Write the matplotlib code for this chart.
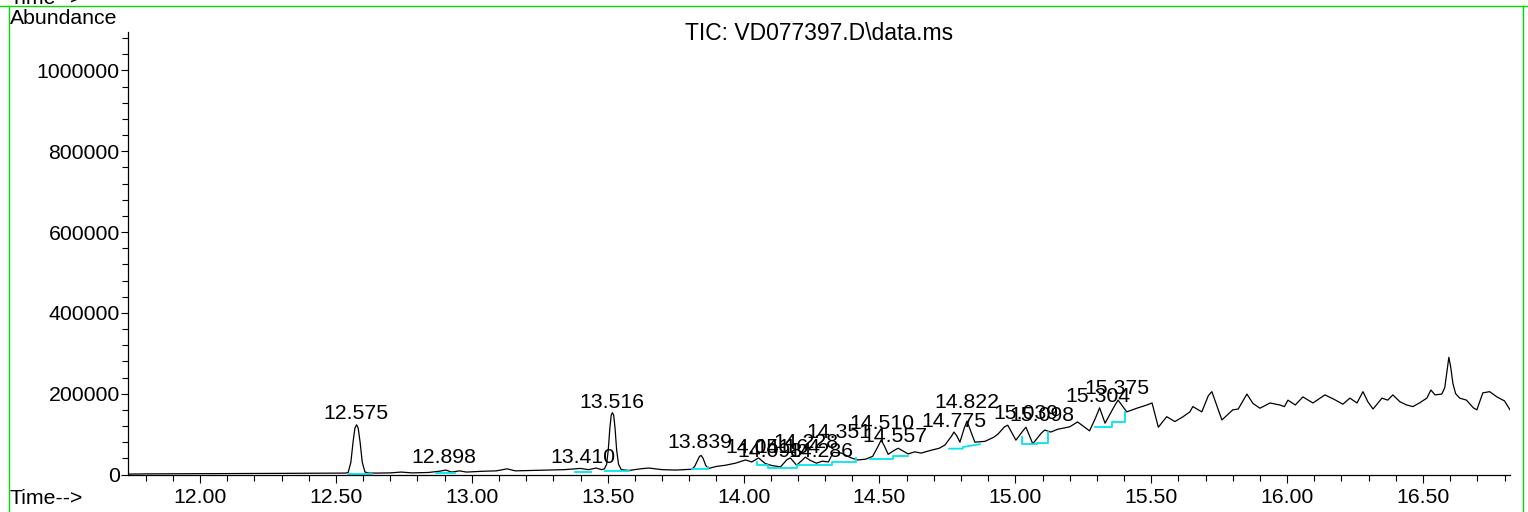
import numpy as np
import matplotlib
matplotlib.use('Agg')
import matplotlib.pyplot as plt
from matplotlib.lines import Line2D
from matplotlib.ticker import MultipleLocator, FormatStrFormatter

plt.rcParams['font.family'] = ['Liberation Sans', 'DejaVu Sans']

# chromatogram trace (time in min, abundance)
time = [11.735, 11.80, 11.90, 12.00, 12.10, 12.20, 12.30, 12.40, 12.48, 12.535,
        12.545, 12.555, 12.563, 12.570, 12.576, 12.582, 12.589, 12.597, 12.607, 12.620,
        12.65, 12.70, 12.74, 12.78, 12.84, 12.88, 12.905, 12.925, 12.955, 12.98,
        13.04, 13.09, 13.13, 13.16, 13.22, 13.28, 13.34, 13.40, 13.43, 13.457,
        13.478, 13.488, 13.496, 13.502, 13.508, 13.513, 13.517, 13.522, 13.527, 13.533,
        13.540, 13.550, 13.578, 13.62, 13.651, 13.70, 13.75, 13.81, 13.820, 13.830,
        13.838, 13.844, 13.851, 13.861, 13.872, 13.90, 13.934, 13.97, 14.007, 14.03,
        14.055, 14.08, 14.105, 14.136, 14.160, 14.172, 14.195, 14.215, 14.227, 14.245,
        14.268, 14.29, 14.312, 14.33, 14.36, 14.396, 14.42, 14.45, 14.475, 14.495,
        14.506, 14.517, 14.532, 14.555, 14.569, 14.605, 14.63, 14.653, 14.69, 14.72,
        14.741, 14.765, 14.774, 14.785, 14.796, 14.812, 14.822, 14.833, 14.851, 14.888,
        14.92, 14.936, 14.960, 14.972, 15.002, 15.030, 15.039, 15.064, 15.095, 15.108,
        15.13, 15.156, 15.20, 15.229, 15.273, 15.295, 15.310, 15.33, 15.365, 15.378,
        15.41, 15.447, 15.484, 15.503, 15.526, 15.557, 15.587, 15.617, 15.642, 15.653,
        15.686, 15.710, 15.723, 15.76, 15.80, 15.82, 15.852, 15.874, 15.90, 15.937,
        15.973, 15.99, 16.003, 16.03, 16.058, 16.095, 16.139, 16.17, 16.205, 16.231,
        16.257, 16.279, 16.297, 16.316, 16.349, 16.37, 16.389, 16.415, 16.44, 16.463,
        16.489, 16.514, 16.529, 16.544, 16.569, 16.580, 16.588, 16.595, 16.602, 16.610,
        16.620, 16.635, 16.66, 16.685, 16.698, 16.72, 16.745, 16.772, 16.80, 16.82]
abundance = [1000, 1500, 1800, 2000, 2300, 2500, 2800, 3000, 3300, 3500,
             5000, 30000, 80000, 115000, 123000, 115000, 80000, 30000, 6000, 3500,
             3500, 4000, 6000, 4000, 5000, 8000, 11000, 6000, 9000, 6000,
             8000, 9000, 14000, 9000, 10000, 11000, 12000, 15000, 12000, 16000,
             12000, 14000, 25000, 60000, 115000, 147000, 153000, 147000, 115000, 60000,
             25000, 12000, 10000, 14000, 16000, 12000, 11000, 13000, 20000, 34000,
             45000, 47000, 40000, 22000, 15000, 20000, 23000, 28000, 36000, 31000,
             41000, 27000, 22000, 19000, 37000, 41000, 23000, 35000, 43000, 35000,
             28000, 33000, 31000, 55000, 53000, 41000, 36000, 38000, 45000, 70000,
             85000, 72000, 50000, 60000, 65000, 51000, 56000, 53000, 60000, 65000,
             73000, 95000, 105000, 95000, 80000, 115000, 132000, 112000, 80000, 82000,
             92000, 100000, 118000, 122000, 85000, 110000, 117000, 76000, 102000, 110000,
             105000, 112000, 118000, 130000, 108000, 140000, 165000, 127000, 170000, 184000,
             155000, 164000, 172000, 177000, 117000, 143000, 131000, 143000, 155000, 168000,
             155000, 195000, 205000, 135000, 160000, 162000, 199000, 176000, 164000, 177000,
             172000, 168000, 184000, 172000, 192000, 177000, 197000, 187000, 174000, 189000,
             177000, 205000, 180000, 162000, 189000, 184000, 197000, 180000, 172000, 168000,
             178000, 189000, 209000, 197000, 199000, 215000, 255000, 290000, 265000, 225000,
             200000, 189000, 184000, 165000, 160000, 202000, 205000, 192000, 182000, 160000]

# integrated peaks: label text and label height
peak_labels = ['12.575', '12.898', '13.410', '13.516', '13.839', '14.051', '14.098',
               '14.164', '14.228', '14.286', '14.351', '14.510', '14.557', '14.775',
               '14.822', '15.039', '15.098', '15.304', '15.375']
label_height = [152000, 41000, 43000, 179000, 78000, 68000, 58000,
                68000, 78000, 58000, 105000, 127000, 95000, 132000,
                177000, 152000, 145000, 194000, 214000]

# integration baselines (cyan)
baseline_t = [
    [12.545, 12.633],
    [12.87, 12.94],
    [13.38, 13.44],
    [13.49, 13.58],
    [13.81, 13.87, 13.87],
    [14.049, 14.049, 14.09, 14.09, 14.196, 14.196, 14.325, 14.325, 14.414, 14.414],
    [14.465, 14.55, 14.55, 14.605],
    [14.756, 14.807, 14.807, 14.87],
    [15.023, 15.023, 15.078, 15.078, 15.121, 15.121],
    [15.293, 15.354, 15.354, 15.403, 15.403],
]
baseline_a = [
    [1500, 1500],
    [2500, 2500],
    [6000, 6000],
    [9500, 9500],
    [13000, 13000, 19000],
    [31000, 23500, 23500, 15000, 15000, 23500, 23500, 31000, 31000, 40000],
    [38000, 38000, 47000, 47000],
    [64000, 64000, 68000, 75000],
    [94000, 75000, 75000, 79000, 79000, 106000],
    [118000, 118000, 131000, 131000, 155000],
]

W, H = 1528, 512
fig = plt.figure(figsize=(W / 100, H / 100), dpi=100)
ax = fig.add_axes([128 / W, 1 - 474.5 / H, (1510 - 128) / W, (474.5 - 32) / H])

ax.plot(time, abundance, color='black', lw=0.9)
for bt, ba in zip(baseline_t, baseline_a):
    ax.plot(bt, ba, color='#00e5ee', lw=1.3)

fs = 15.3
for lab, h in zip(peak_labels, label_height):
    ax.text(float(lab), h, lab, ha='center', va='center', fontsize=fs)

ax.set_xlim(11.735, 16.82)
ax.set_ylim(0, 1095000)
ax.xaxis.set_major_locator(MultipleLocator(0.5))
ax.xaxis.set_minor_locator(MultipleLocator(0.1))
ax.xaxis.set_major_formatter(FormatStrFormatter('%.2f'))
ax.yaxis.set_major_locator(MultipleLocator(200000))
ax.yaxis.set_minor_locator(MultipleLocator(40000))
ax.yaxis.set_major_formatter(FormatStrFormatter('%d'))
ax.tick_params(axis='x', which='major', length=6, width=0.8, labelsize=fs, pad=4)
ax.tick_params(axis='x', which='minor', length=4, width=0.8)
ax.tick_params(axis='y', which='major', length=5, width=0.8, labelsize=fs, pad=1)
ax.tick_params(axis='y', which='minor', length=4, width=0.8)
for s in ['top', 'right']:
    ax.spines[s].set_visible(False)
for s in ['left', 'bottom']:
    ax.spines[s].set_linewidth(0.9)

fig.text(819 / W, 1 - 33 / H, 'TIC: VD077397.D\\data.ms', ha='center', va='center', fontsize=16.5)
fig.text(10 / W, 1 - 18 / H, 'Abundance', ha='left', va='center', fontsize=fs)
fig.text(10 / W, 1 - 498 / H, 'Time-->', ha='left', va='center', fontsize=fs)
fig.text(10 / W, 1 + 2 / H, 'Time-->', ha='left', va='center', fontsize=fs)

# green frame
g = '#00dd00'
fig.add_artist(Line2D([0, 1], [1 - 5.5 / H] * 2, color=g, lw=1, transform=fig.transFigure))
fig.add_artist(Line2D([8.5 / W] * 2, [0, 1 - 5.5 / H], color=g, lw=1, transform=fig.transFigure))
fig.add_artist(Line2D([1522.5 / W] * 2, [0, 1 - 5.5 / H], color=g, lw=1, transform=fig.transFigure))

fig.savefig('out.png', dpi=100)
